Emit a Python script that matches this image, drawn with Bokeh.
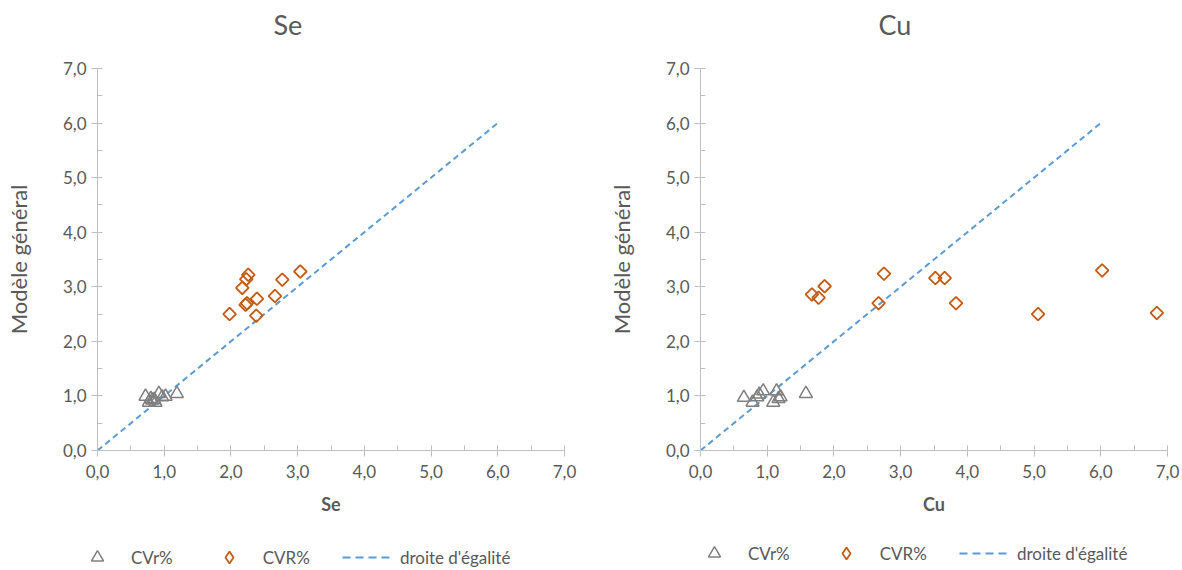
from bokeh.plotting import figure
from bokeh.layouts import row, column
from bokeh.models import (Range1d, FixedTicker, CustomJSTickFormatter, Legend,
                          LegendItem, Title)
from bokeh.embed import file_html
from bokeh.resources import INLINE
import numpy as np

# ---- data ----
se_cvr_x = [0.72, 0.92, 0.97, 0.82, 0.87, 1.19, 0.77, 1.02, 0.80, 0.85]
se_cvr_y = [0.99, 1.04, 0.98, 0.92, 0.88, 1.04, 0.88, 0.99, 0.95, 0.93]
se_CVR_x = [2.26, 2.23, 2.17, 2.77, 3.04, 1.98, 2.22, 2.24, 2.39, 2.66, 2.38]
se_CVR_y = [3.22, 3.14, 2.98, 3.13, 3.28, 2.50, 2.67, 2.70, 2.78, 2.83, 2.47]

cu_cvr_x = [0.65, 0.78, 0.88, 0.94, 0.85, 1.14, 1.09, 1.17, 1.20, 1.58]
cu_cvr_y = [0.97, 0.88, 1.03, 1.09, 0.98, 1.09, 0.88, 0.95, 0.98, 1.04]
cu_CVR_x = [1.67, 1.77, 1.86, 2.75, 2.67, 3.52, 3.66, 3.83, 6.02, 5.06, 6.84]
cu_CVR_y = [2.86, 2.80, 3.01, 3.24, 2.70, 3.16, 3.16, 2.70, 3.30, 2.50, 2.52]

line_x = [0.0, 6.0]
line_y = [0.0, 6.0]

major_ticks = [0, 1, 2, 3, 4, 5, 6, 7]
minor_ticks = [0.5, 1.5, 2.5, 3.5, 4.5, 5.5, 6.5]

labels = ["CVr%", "CVR%", "droite d'égalité"]
titles = ["Se", "Cu"]
y_label = "Modèle général"

FONT = "Lato"
TXT = "#595959"
AX = "#bfbfbf"
TRI_C = "#7f7f7f"
DIA_C = "#c55a11"
LINE_C = "#5b9bd5"


def make(title, tx, ty, dx, dy, width, left_border, right_border, t_off):
    p = figure(width=width, height=518, output_backend="svg", toolbar_location=None,
               x_range=Range1d(0, 7), y_range=Range1d(0, 7),
               min_border_left=left_border, min_border_right=right_border,
               min_border_top=10, min_border_bottom=68)
    p.outline_line_color = None
    p.grid.visible = False
    p.title = Title(text=title, align="left", offset=t_off,
                    text_font=FONT, text_font_size="27px",
                    text_font_style="normal", text_color=TXT)
    p.add_layout(Title(text=" ", text_font_size="10px"), "above")
    fmt = CustomJSTickFormatter(code="return tick.toFixed(1).replace('.', ',');")
    for ax in (p.xaxis[0], p.yaxis[0]):
        ax.ticker = FixedTicker(ticks=major_ticks, minor_ticks=minor_ticks)
        ax.formatter = fmt
        ax.axis_line_color = AX
        ax.major_tick_line_color = AX
        ax.minor_tick_line_color = AX
        ax.major_tick_in = 5
        ax.major_tick_out = 6
        ax.minor_tick_in = 5
        ax.minor_tick_out = 0
        ax.major_label_text_font = FONT
        ax.major_label_text_font_size = "17px"
        ax.major_label_text_color = TXT
        ax.axis_label_text_font = FONT
        ax.axis_label_text_color = TXT
    p.xaxis.axis_label = title
    p.xaxis.axis_label_text_font_style = "bold"
    p.xaxis.axis_label_text_font_size = "18px"
    p.xaxis.axis_label_standoff = 12
    p.xaxis.major_label_standoff = 8
    p.yaxis.axis_label = y_label
    p.yaxis.axis_label_text_font_style = "normal"
    p.yaxis.axis_label_text_font_size = "22px"
    p.yaxis.axis_label_standoff = 28
    p.yaxis.major_label_standoff = 5

    p.line(line_x, line_y, line_color=LINE_C, line_width=2, line_dash="6 4")
    p.scatter(tx, ty, marker="triangle", size=13, fill_color=None,
              line_color=TRI_C, line_width=1.5)
    p.scatter(dx, dy, marker="square", size=9, angle=np.pi / 4,
              fill_color=None, line_color=DIA_C, line_width=1.8)
    return p


def add_legend(q, lx, ly):
    r_tri = q.scatter([-5], [-5], marker="triangle", size=13, fill_color=None,
                      line_color=TRI_C, line_width=1.5)
    r_dia = q.scatter([-5], [-5], marker="diamond", size=13,
                      fill_color=None, line_color=DIA_C, line_width=1.8)
    r_line = q.line([-5, -4], [-5, -4], line_color=LINE_C, line_width=2,
                    line_dash="8 5")
    leg = Legend(items=[LegendItem(label=labels[0], renderers=[r_tri]),
                        LegendItem(label=labels[1], renderers=[r_dia]),
                        LegendItem(label=labels[2], renderers=[r_line])],
                 orientation="horizontal", location=(lx, ly),
                 border_line_color=None, background_fill_alpha=0,
                 padding=0, margin=0, spacing=32,
                 glyph_width=48, glyph_height=30, label_standoff=10,
                 label_text_font=FONT, label_text_font_size="17px",
                 label_text_color=TXT)
    q.add_layout(leg, "center")


p1 = make(titles[0], se_cvr_x, se_cvr_y, se_CVR_x, se_CVR_y, 591, 97, 27, 176)
p2 = make(titles[1], cu_cvr_x, cu_cvr_y, cu_CVR_x, cu_CVR_y, 591, 109, 15, 178)

lfig = figure(width=1182, height=52, output_backend="svg", toolbar_location=None,
              x_range=Range1d(0, 1), y_range=Range1d(0, 1),
              x_axis_location=None, y_axis_location=None, min_border=0)
lfig.outline_line_color = None
lfig.grid.visible = False
add_legend(lfig, 73, -2)
add_legend(lfig, 690, 2)

layout = column(row(p1, p2), lfig)
open("out.html", "w").write(file_html(layout, INLINE))
